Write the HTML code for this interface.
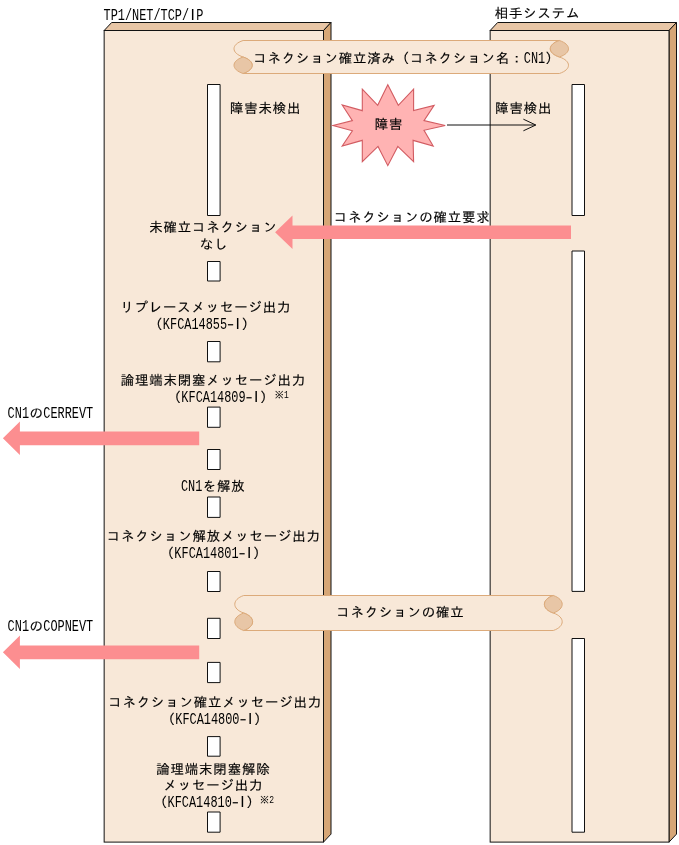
<!DOCTYPE html>
<html lang="ja">
<head>
<meta charset="utf-8">
<title>TP1/NET/TCP/IP コネクション確立</title>
<style>
html,body{margin:0;padding:0;background:#fff}
svg{display:block;will-change:transform}
text{font-family:"Liberation Mono","IPAGothic",monospace;font-size:13.4px;letter-spacing:0.87px;fill:#000;stroke:#000;stroke-width:.15px}
.l{stroke-width:0;letter-spacing:0}
.l{font-size:1.2313em}
.s{font-family:"Liberation Sans","IPAGothic",sans-serif;font-size:1.1940em;stroke-width:0;letter-spacing:0;text-rendering:geometricPrecision}
</style>
</head>
<body>
<svg width="679" height="845" viewBox="0 0 679 845">
<polygon points="104.15,30.5 111.65,22.5 331.0,22.5 323.5,30.5" fill="#E8C6A6" stroke="#111" stroke-width="1" stroke-linejoin="round"/>
<polygon points="323.5,30.5 331.0,22.5 331.0,834.1 323.5,842.1" fill="#D6A676" stroke="#111" stroke-width="1" stroke-linejoin="round"/>
<rect x="104.15" y="30.5" width="219.35" height="811.6" fill="#F8E8D8" stroke="#111" stroke-width="1"/>
<polygon points="490.15,30.5 497.65,22.5 676.5,22.5 669,30.5" fill="#E8C6A6" stroke="#111" stroke-width="1" stroke-linejoin="round"/>
<polygon points="669,30.5 676.5,22.5 676.5,834.1 669,842.1" fill="#D6A676" stroke="#111" stroke-width="1" stroke-linejoin="round"/>
<rect x="490.15" y="30.5" width="178.85" height="811.6" fill="#F8E8D8" stroke="#111" stroke-width="1"/>
<text x="103.94" y="19.5"><tspan class="l" dx="-0.43" textLength="85.62" lengthAdjust="spacingAndGlyphs">TP1/NET/TCP/</tspan><tspan class="s" dx="1.35" textLength="4.36" lengthAdjust="spacingAndGlyphs">I</tspan><tspan class="l" dx="1.43" textLength="7.13" lengthAdjust="spacingAndGlyphs">P</tspan></text>
<text x="494.74" y="17.9">相手システム</text>
<rect x="207.5" y="84.5" width="12.6" height="131.0" fill="#fff" stroke="#111" stroke-width="1" stroke-linejoin="round"/>
<rect x="207.5" y="261.5" width="12.6" height="19.5" fill="#fff" stroke="#111" stroke-width="1" stroke-linejoin="round"/>
<rect x="207.5" y="341.5" width="12.6" height="20.3" fill="#fff" stroke="#111" stroke-width="1" stroke-linejoin="round"/>
<rect x="207.5" y="407.1" width="12.6" height="20.2" fill="#fff" stroke="#111" stroke-width="1" stroke-linejoin="round"/>
<rect x="207.5" y="449.5" width="12.6" height="20.0" fill="#fff" stroke="#111" stroke-width="1" stroke-linejoin="round"/>
<rect x="207.5" y="497" width="12.6" height="20.4" fill="#fff" stroke="#111" stroke-width="1" stroke-linejoin="round"/>
<rect x="207.5" y="571.5" width="12.6" height="20.0" fill="#fff" stroke="#111" stroke-width="1" stroke-linejoin="round"/>
<rect x="207.5" y="618.3" width="12.6" height="20.2" fill="#fff" stroke="#111" stroke-width="1" stroke-linejoin="round"/>
<rect x="207.5" y="662.4" width="12.6" height="20.2" fill="#fff" stroke="#111" stroke-width="1" stroke-linejoin="round"/>
<rect x="207.5" y="736.6" width="12.6" height="19.6" fill="#fff" stroke="#111" stroke-width="1" stroke-linejoin="round"/>
<rect x="207.5" y="812" width="12.6" height="20.2" fill="#fff" stroke="#111" stroke-width="1" stroke-linejoin="round"/>
<rect x="572" y="84.5" width="12.5" height="131.0" fill="#fff" stroke="#111" stroke-width="1" stroke-linejoin="round"/>
<rect x="572" y="251" width="12.5" height="340.4" fill="#fff" stroke="#111" stroke-width="1" stroke-linejoin="round"/>
<rect x="572" y="638.5" width="12.5" height="193.7" fill="#fff" stroke="#111" stroke-width="1" stroke-linejoin="round"/>
<path d="M243.1,40.5 L559.4,40.5 C547.27,44.50 547.27,53.00 559.4,57 C571.53,61.00 571.53,69.50 559.4,73.5 L243.1,73.5 C255.23,69.50 255.23,61.00 243.1,57 C230.97,53.00 230.97,44.50 243.1,40.5 Z" fill="#F8E8D8" stroke="#DCAA7A" stroke-width="1"/>
<path d="M559.4,40.5 C571.53,44.50 571.53,53.00 559.4,57 C547.27,53.00 547.27,44.50 559.4,40.5 Z" fill="#E8C6A6" stroke="#DCAA7A" stroke-width="1"/>
<path d="M243.1,73.5 C230.97,69.50 230.97,61.00 243.1,57 C255.23,61.00 255.23,69.50 243.1,73.5 Z" fill="#E8C6A6" stroke="#DCAA7A" stroke-width="1"/>
<path d="M243.7,595.5 L553.3,595.5 C541.43,599.50 541.43,609.00 553.3,613 C565.17,617.00 565.17,626.50 553.3,630.5 L243.7,630.5 C255.57,626.50 255.57,617.00 243.7,613 C231.83,609.00 231.83,599.50 243.7,595.5 Z" fill="#F8E8D8" stroke="#DCAA7A" stroke-width="1"/>
<path d="M553.3,595.5 C565.17,599.50 565.17,609.00 553.3,613 C541.43,609.00 541.43,599.50 553.3,595.5 Z" fill="#E8C6A6" stroke="#DCAA7A" stroke-width="1"/>
<path d="M243.7,630.5 C231.83,626.50 231.83,617.00 243.7,613 C255.57,617.00 255.57,626.50 243.7,630.5 Z" fill="#E8C6A6" stroke="#DCAA7A" stroke-width="1"/>
<text x="253.24" y="63.4">コネクション確立済み（コネクション名：<tspan class="l" dx="-0.43" textLength="21.41" lengthAdjust="spacingAndGlyphs">CN1</tspan><tspan dx="0.43">）</tspan></text>
<text x="336.13" y="617">コネクションの確立</text>
<polygon points="387.8,84.85 398.3,105.35 413.6,89.05 413.6,110.65 434.1,105.35 424.0,120.65 445.2,125.45 424.0,130.25 433.2,146.05 413.1,140.35 413.6,161.75 397.8,146.45 387.8,165.65 378.0,146.45 362.3,161.75 362.3,140.35 342.2,146.05 352.4,130.75 333.0,125.45 352.4,120.65 342.2,104.95 362.3,110.65 362.3,89.05 377.7,105.35" fill="#FFB3B3" stroke="#D25C62" stroke-width="1.1" stroke-linejoin="miter"/>
<text x="374.63" y="129.3">障害</text>
<path d="M447,125 L535.5,125 M523.4,119.2 L535.8,125 L523.4,130.8" fill="none" stroke="#111" stroke-width="1"/>
<text x="229.94" y="112.7">障害未検出</text>
<text x="495.24" y="112.7">障害検出</text>
<polygon points="275.1,232.25 292.5,215.5 292.5,225.4 571,225.4 571,239.1 292.5,239.1 292.5,249.0" fill="#FC8E90"/>
<text x="333.63" y="222">コネクションの確立要求</text>
<polygon points="2.9,438.3 19.9,421.55 19.9,431.45 199.2,431.45 199.2,445.15 19.9,445.15 19.9,455.05" fill="#FC8E90"/>
<polygon points="2.9,652.3 19.9,635.55 19.9,645.45 199.2,645.45 199.2,659.15 19.9,659.15 19.9,669.05" fill="#FC8E90"/>
<text x="8.04" y="418.2"><tspan class="l" dx="-0.43" textLength="21.41" lengthAdjust="spacingAndGlyphs">CN1</tspan><tspan dx="0.43">の</tspan><tspan class="l" dx="-0.43" textLength="49.95" lengthAdjust="spacingAndGlyphs">CERREVT</tspan></text>
<text x="8.04" y="630.6"><tspan class="l" dx="-0.43" textLength="21.41" lengthAdjust="spacingAndGlyphs">CN1</tspan><tspan dx="0.43">の</tspan><tspan class="l" dx="-0.43" textLength="49.95" lengthAdjust="spacingAndGlyphs">COPNEVT</tspan></text>
<text x="149.24" y="231.7">未確立コネクション</text>
<text x="199.63" y="248.5">なし</text>
<text x="120.14" y="311.7">リプレースメッセージ出力</text>
<text x="149.03" y="328.8">（<tspan class="l" dx="-0.43" textLength="64.22" lengthAdjust="spacingAndGlyphs">KFCA14855</tspan><tspan class="s" dx="0.00" textLength="7.13" lengthAdjust="spacingAndGlyphs">-</tspan><tspan class="s" dx="1.35" textLength="4.36" lengthAdjust="spacingAndGlyphs">I</tspan><tspan dx="1.87">）</tspan></text>
<text x="120.64" y="385">論理端末閉塞メッセージ出力</text>
<text x="167.53" y="401.8">（<tspan class="l" dx="-0.43" textLength="64.22" lengthAdjust="spacingAndGlyphs">KFCA14809</tspan><tspan class="s" dx="0.00" textLength="7.13" lengthAdjust="spacingAndGlyphs">-</tspan><tspan class="s" dx="1.35" textLength="4.36" lengthAdjust="spacingAndGlyphs">I</tspan><tspan dx="1.87">）</tspan></text>
<text x="274.69" y="398" style="font-size:9.01px;letter-spacing:0.59px">※<tspan class="l" dx="-0.29" textLength="4.80" lengthAdjust="spacingAndGlyphs">1</tspan></text>
<text x="181.34" y="490.5"><tspan class="l" dx="-0.43" textLength="21.41" lengthAdjust="spacingAndGlyphs">CN1</tspan><tspan dx="0.43">を解放</tspan></text>
<text x="106.84" y="541.2">コネクション解放メッセージ出力</text>
<text x="160.53" y="557.7">（<tspan class="l" dx="-0.43" textLength="64.22" lengthAdjust="spacingAndGlyphs">KFCA14801</tspan><tspan class="s" dx="0.00" textLength="7.13" lengthAdjust="spacingAndGlyphs">-</tspan><tspan class="s" dx="1.35" textLength="4.36" lengthAdjust="spacingAndGlyphs">I</tspan><tspan dx="1.87">）</tspan></text>
<text x="108.23" y="706.7">コネクション確立メッセージ出力</text>
<text x="161.44" y="724">（<tspan class="l" dx="-0.43" textLength="64.22" lengthAdjust="spacingAndGlyphs">KFCA14800</tspan><tspan class="s" dx="0.00" textLength="7.13" lengthAdjust="spacingAndGlyphs">-</tspan><tspan class="s" dx="1.35" textLength="4.36" lengthAdjust="spacingAndGlyphs">I</tspan><tspan dx="1.87">）</tspan></text>
<text x="156.34" y="773.6">論理端末閉塞解除</text>
<text x="163.44" y="790.1">メッセージ出力</text>
<text x="153.74" y="807.4">（<tspan class="l" dx="-0.43" textLength="64.22" lengthAdjust="spacingAndGlyphs">KFCA14810</tspan><tspan class="s" dx="0.00" textLength="7.13" lengthAdjust="spacingAndGlyphs">-</tspan><tspan class="s" dx="1.35" textLength="4.36" lengthAdjust="spacingAndGlyphs">I</tspan><tspan dx="1.87">）</tspan></text>
<text x="259.89" y="803.3" style="font-size:9.01px;letter-spacing:0.59px">※<tspan class="l" dx="-0.29" textLength="4.80" lengthAdjust="spacingAndGlyphs">2</tspan></text>
</svg>
</body>
</html>
